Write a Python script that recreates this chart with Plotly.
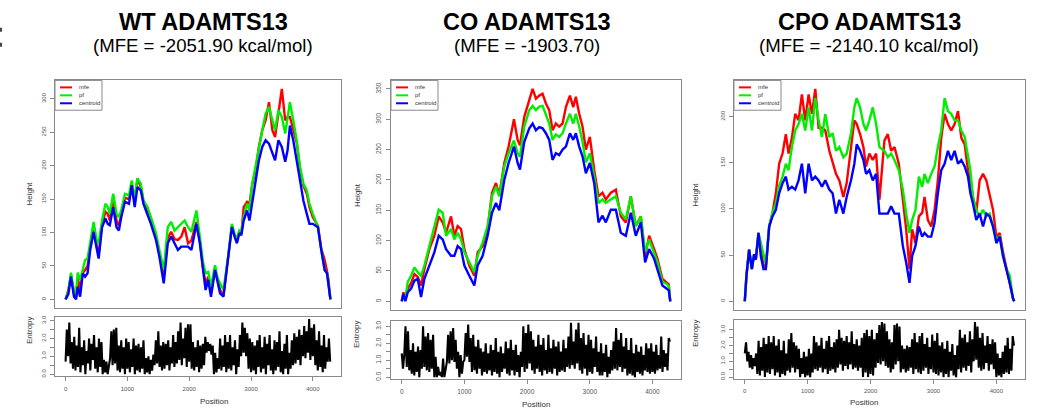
import plotly.graph_objects as go

W, H = 1038, 420
SEQ_LEN = 4284
ENT_STEP = 20

TITLES = ["WT ADAMTS13", "CO ADAMTS13", "CPO ADAMTS13"]
SUBTITLES = ["(MFE = -2051.90 kcal/mol)", "(MFE = -1903.70)", "(MFE = -2140.10 kcal/mol)"]
SERIES_NAMES = ["mfe", "pf", "centroid"]
COLORS = ["#ff0000", "#00ee00", "#0000ff"]

X_TICKS = [0, 1000, 2000, 3000, 4000]
X_TICK_LABELS = ["0", "1000", "2000", "3000", "4000"]
ENT_TICKS = [0, 0.5, 1.0, 1.5, 2.0, 2.5, 3.0]
ENT_TICK_LABELS = ["0.0", "", "1.0", "", "2.0", "", "3.0"]
WT_HEIGHT_TICKS = [0, 50, 100, 150, 200, 250, 300]
CO_HEIGHT_TICKS = [0, 50, 100, 150, 200, 250, 300, 350]
CPO_HEIGHT_TICKS = [0, 50, 100, 150, 200]

# ---------------- WT mountain plot ----------------
WT_POS = [0, 45, 87, 136, 170, 196, 235, 278, 316, 355, 398, 453, 508, 535, 590, 644, 682, 715,
          770, 824, 862, 900, 960, 1026, 1070, 1118, 1162, 1217, 1260, 1326, 1380, 1462, 1517,
          1588, 1653, 1708, 1763, 1817, 1872, 1926, 1981, 2035, 2117, 2172, 2226, 2265, 2308,
          2352, 2417, 2461, 2499, 2554, 2636, 2690, 2734, 2772, 2810, 2843, 2881, 2936, 2974,
          3018, 3072, 3127, 3181, 3236, 3290, 3345, 3389, 3443, 3498, 3553, 3591, 3629, 3683,
          3738, 3793, 3847, 3902, 3945, 4000, 4082, 4136, 4191, 4229, 4250, 4284]
WT_PF = [0, 12, 40, 12, 8, 40, 29, 44, 59, 61, 84, 116, 86, 84, 118, 143, 138, 128, 158, 128,
         123, 133, 158, 156, 178, 150, 181, 173, 148, 138, 123, 99, 74, 44, 108, 116, 103, 108,
         113, 118, 108, 101, 133, 94, 54, 39, 41, 19, 51, 31, 24, 14, 68, 113, 98, 90, 103, 100,
         123, 143, 133, 173, 198, 228, 253, 278, 288, 268, 253, 283, 273, 248, 276, 295, 268,
         238, 198, 173, 163, 143, 128, 108, 74, 44, 39, 24, 0]
WT_MFE = [0, 14, 36, 8, 4, 32, 15, 40, 44, 50, 78, 103, 78, 68, 112, 131, 128, 118, 148, 118,
          110, 128, 152, 150, 166, 145, 181, 168, 146, 133, 118, 94, 69, 34, 92, 101, 90, 89,
          94, 108, 84, 88, 116, 88, 44, 24, 34, 9, 47, 27, 14, 6, 66, 110, 96, 87, 101, 98,
          138, 146, 143, 171, 193, 228, 253, 268, 295, 253, 243, 278, 315, 268, 273, 273, 253,
          235, 195, 170, 158, 138, 123, 110, 76, 59, 42, 31, 0]
WT_CENTROID = [0, 8, 34, 4, 0, 19, 4, 39, 34, 39, 74, 101, 74, 61, 108, 121, 113, 111, 138, 108,
               103, 123, 146, 143, 171, 138, 168, 163, 143, 128, 113, 89, 64, 24, 84, 94, 84, 74,
               79, 79, 79, 74, 113, 84, 39, 14, 29, 4, 44, 24, 9, 4, 64, 108, 94, 84, 99, 96,
               118, 133, 118, 143, 173, 208, 228, 238, 233, 218, 208, 238, 228, 206, 223, 260, 238,
               208, 178, 148, 128, 113, 113, 108, 74, 44, 39, 24, 0]

# ---------------- CO mountain plot ----------------
CO_POS = [0, 27, 58, 96, 149, 202, 255, 308, 361, 441, 521, 590, 653, 707, 786, 839, 892, 946,
          999, 1078, 1158, 1211, 1291, 1370, 1440, 1503, 1556, 1636, 1705, 1790, 1849, 1886,
          1955, 2035, 2088, 2141, 2194, 2247, 2300, 2353, 2406, 2459, 2512, 2566, 2619, 2683,
          2736, 2778, 2831, 2884, 2938, 3001, 3070, 3139, 3203, 3256, 3336, 3416, 3495, 3575,
          3655, 3734, 3814, 3883, 3947, 4027, 4080, 4159, 4223, 4260, 4284]
CO_PF = [0, 10, 5, 32, 42, 56, 48, 42, 59, 91, 119, 151, 146, 108, 119, 102, 113, 102, 81, 64,
         48, 75, 97, 124, 173, 189, 173, 222, 244, 265, 244, 238, 288, 315, 322, 315, 321, 322,
         309, 293, 266, 275, 271, 277, 293, 309, 293, 309, 288, 263, 229, 244, 206, 162, 168,
         162, 168, 173, 146, 135, 173, 124, 140, 81, 102, 81, 64, 32, 29, 25, 0]
CO_MFE = [0, 15, 2, 21, 30, 45, 40, 26, 53, 86, 108, 140, 130, 113, 140, 108, 124, 119, 86, 59,
          42, 81, 91, 119, 179, 195, 175, 228, 255, 300, 266, 257, 304, 331, 350, 334, 339, 342,
          326, 315, 282, 293, 288, 293, 320, 339, 320, 337, 309, 288, 250, 271, 217, 173, 179,
          168, 179, 184, 140, 130, 173, 124, 140, 75, 108, 86, 70, 37, 32, 28, 0]
CO_CENTROID = [0, 12, 0, 15, 21, 34, 37, 7, 37, 59, 81, 108, 102, 86, 75, 75, 91, 86, 59, 42,
               26, 59, 75, 108, 146, 162, 150, 200, 228, 255, 228, 217, 263, 285, 293, 282, 287,
               285, 277, 266, 233, 244, 241, 250, 255, 277, 266, 277, 255, 239, 211, 228, 195,
               130, 141, 130, 151, 151, 113, 108, 146, 108, 130, 64, 86, 70, 53, 26, 21, 18, 0]

# ---------------- CPO mountain plot ----------------
CPO_POS = [0, 27, 69, 112, 149, 175, 218, 255, 297, 335, 388, 441, 494, 547, 600, 653, 696, 749,
           802, 855, 908, 961, 1015, 1068, 1121, 1174, 1227, 1280, 1344, 1397, 1450, 1503, 1567,
           1620, 1689, 1742, 1780, 1833, 1886, 1928, 1981, 2035, 2088, 2141, 2220, 2274, 2327,
           2380, 2449, 2513, 2566, 2619, 2661, 2714, 2768, 2821, 2858, 2911, 2964, 3017, 3070,
           3124, 3177, 3230, 3283, 3336, 3390, 3443, 3496, 3549, 3587, 3628, 3681, 3734, 3788,
           3841, 3894, 3947, 4000, 4053, 4106, 4159, 4212, 4265, 4284]
CPO_PF = [0, 28, 56, 35, 51, 45, 74, 63, 51, 40, 81, 96, 106, 125, 135, 149, 142, 167, 185, 192,
          203, 185, 210, 185, 220, 196, 178, 203, 178, 182, 163, 167, 156, 160, 182, 210, 220,
          210, 192, 185, 196, 210, 192, 167, 163, 156, 160, 153, 142, 121, 95, 74, 88, 99, 135,
          124, 138, 128, 138, 146, 167, 185, 220, 206, 203, 196, 196, 185, 178, 156, 142, 113,
          99, 92, 99, 92, 95, 81, 67, 70, 49, 35, 28, 3, 0]
CPO_MFE = [0, 28, 56, 35, 51, 45, 74, 55, 40, 36, 81, 96, 117, 149, 160, 181, 160, 177, 203, 196,
           224, 196, 224, 203, 230, 188, 188, 185, 163, 149, 138, 131, 113, 128, 167, 196, 192,
           181, 167, 146, 160, 153, 160, 110, 174, 181, 163, 167, 149, 113, 78, 35, 78, 63, 92,
           96, 113, 88, 81, 99, 131, 177, 203, 192, 185, 192, 206, 177, 170, 142, 131, 113, 96,
           131, 138, 131, 113, 99, 70, 74, 53, 38, 20, 3, 0]
CPO_CENTROID = [0, 28, 56, 35, 51, 45, 74, 49, 35, 35, 81, 92, 99, 117, 128, 135, 121, 124, 121,
                131, 149, 117, 149, 131, 135, 131, 124, 131, 121, 117, 95, 110, 95, 113, 131, 149,
                170, 163, 153, 138, 142, 131, 138, 95, 95, 95, 103, 95, 95, 60, 42, 20, 49, 60,
                81, 70, 74, 70, 70, 85, 117, 142, 149, 163, 153, 163, 149, 153, 146, 135, 117,
                106, 88, 95, 81, 95, 92, 81, 63, 70, 49, 35, 20, 3, 0]

# ---------------- Positional entropy (sampled every ENT_STEP nt) ----------------
WT_ENTROPY = [
    0.7, 2.5, 1.0, 2.9, 0.6, 1.8, 0.3, 2.1, 0.2, 1.6,
    0.4, 2.6, 0.1, 1.5, 0.5, 1.9, 0.0, 1.3, 0.6, 2.0,
    0.2, 1.7, 0.8, 2.2, 0.3, 1.5, 0.1, 2.0, 0.4, 1.8,
    0.0, 0.8, 0.1, 0.7, 0.0, 0.6, 0.9, 2.4, 0.5, 2.5,
    0.6, 2.6, 0.2, 1.6, 0.1, 1.9, 0.3, 1.5, 0.0, 2.0,
    0.3, 1.8, 0.1, 1.4, 0.4, 2.0, 0.0, 1.6, 0.2, 1.7,
    0.1, 1.5, 0.3, 1.9, 0.0, 0.9, 0.1, 1.0, 0.0, 0.8,
    0.2, 1.1, 0.5, 1.9, 0.6, 2.4, 0.4, 1.6, 0.2, 1.8,
    0.3, 1.7, 0.5, 1.9, 0.2, 1.5, 0.6, 2.2, 0.4, 1.8,
    0.6, 2.4, 0.8, 2.9, 0.5, 2.0, 0.9, 2.6, 0.4, 2.8,
    0.7, 2.8, 0.3, 1.8, 0.2, 1.5, 0.4, 1.9, 0.1, 1.6,
    0.3, 1.7, 0.5, 2.1, 1.2, 1.8, 1.3, 1.7, 1.1, 1.6,
    0.0, 1.2, 0.1, 0.9, 0.3, 2.0, 0.2, 1.6, 0.4, 2.2,
    0.1, 1.8, 0.3, 2.2, 0.2, 1.5, 0.5, 1.9, 0.0, 1.4,
    0.4, 2.2, 1.0, 2.9, 1.2, 2.6, 1.0, 2.3, 0.3, 2.0,
    0.1, 1.8, 0.2, 1.6, 0.0, 1.9, 0.4, 2.2, 0.1, 1.5,
    0.3, 2.1, 0.0, 1.7, 0.5, 2.2, 0.2, 1.4, 0.0, 1.9,
    0.2, 1.8, 0.4, 2.4, 0.1, 1.3, 0.0, 1.7, 0.3, 2.2,
    0.0, 1.2, 0.3, 1.9, 0.5, 2.3, 0.6, 2.1, 0.8, 2.5,
    0.5, 2.2, 1.0, 2.7, 0.9, 2.4, 1.2, 3.1, 0.8, 2.6,
    1.0, 2.8, 0.5, 1.9, 0.2, 2.4, 0.4, 1.6, 0.1, 2.2,
    0.3, 1.5, 0.7, 2.0, 0.7,
]
CO_ENTROPY = [
    1.4, 0.5, 1.3, 3.0, 0.6, 2.7, 0.4, 1.6, 0.2, 2.0,
    0.1, 1.5, 0.3, 1.8, 0.0, 1.6, 0.5, 3.0, 0.6, 2.4,
    0.4, 2.6, 0.3, 2.2, 0.5, 2.5, 0.0, 1.2, 0.0, 0.6,
    0.1, 0.3, 0.0, 1.1, 0.0, 0.5, 0.9, 2.5, 0.8, 2.7,
    1.0, 2.9, 0.9, 2.2, 0.5, 1.5, 0.0, 1.3, 0.2, 0.9,
    1.0, 2.6, 1.2, 3.1, 0.9, 2.3, 0.3, 2.5, 0.4, 1.8,
    0.2, 2.2, 0.5, 1.7, 0.1, 1.5, 0.3, 2.0, 0.2, 1.4,
    0.4, 1.9, 0.1, 1.6, 0.3, 2.3, 0.2, 1.5, 0.0, 1.8,
    0.3, 1.4, 0.5, 2.1, 0.2, 1.7, 0.1, 2.2, 0.4, 1.6,
    0.1, 1.9, 0.3, 1.3, 0.0, 1.5, 0.6, 3.0, 0.3, 2.6,
    0.5, 3.1, 0.8, 2.7, 0.4, 2.2, 0.2, 1.8, 0.5, 2.5,
    0.3, 1.9, 0.1, 2.3, 0.4, 1.6, 0.2, 2.5, 0.3, 1.7,
    0.2, 2.2, 0.5, 1.8, 0.1, 2.1, 0.3, 1.5, 0.4, 2.2,
    0.3, 1.7, 0.6, 2.4, 0.5, 3.2, 0.7, 2.1, 0.5, 2.8,
    0.8, 3.2, 0.4, 2.3, 0.2, 2.6, 0.5, 1.9, 0.1, 2.5,
    0.3, 2.2, 0.2, 1.7, 0.6, 2.4, 0.3, 1.5, 0.1, 2.0,
    0.1, 1.4, 0.3, 1.9, 0.0, 1.2, 0.2, 1.6, 0.4, 2.1,
    0.5, 2.9, 0.4, 2.2, 0.6, 2.6, 0.3, 1.8, 0.5, 2.3,
    0.1, 1.6, 0.2, 2.3, 0.1, 1.4, 0.0, 1.9, 0.3, 1.5,
    0.2, 1.8, 0.1, 1.3, 0.4, 2.0, 0.3, 1.7, 0.2, 2.0,
    0.3, 1.5, 0.2, 1.9, 0.4, 1.3, 0.5, 2.4, 0.3, 1.6,
    0.6, 1.4, 0.4, 2.3, 2.1,
]
CPO_ENTROPY = [
    1.5, 2.2, 1.0, 1.6, 0.6, 1.4, 0.5, 1.2, 0.7, 1.5,
    0.2, 2.3, 0.1, 1.9, 0.4, 2.5, 0.0, 2.1, 0.3, 2.6,
    0.2, 2.2, 0.5, 2.6, 0.1, 2.0, 0.3, 2.4, 0.0, 1.7,
    0.2, 2.3, 0.1, 1.5, 0.4, 2.4, 0.3, 2.8, 0.6, 2.2,
    0.3, 2.0, 0.5, 1.8, 0.0, 1.2, 0.2, 1.6, 0.0, 1.3,
    0.1, 1.8, 0.0, 1.5, 0.3, 2.6, 0.5, 2.2, 0.4, 2.0,
    0.6, 2.5, 0.3, 1.8, 0.5, 2.3, 0.2, 2.6, 0.4, 1.9,
    0.5, 2.2, 0.3, 2.4, 0.6, 3.0, 0.8, 2.5, 0.4, 2.3,
    0.7, 2.6, 0.5, 2.2, 0.8, 2.9, 0.5, 2.1, 0.6, 2.4,
    0.4, 2.0, 0.6, 2.5, 0.0, 2.8, 0.3, 3.0, 0.0, 2.6,
    0.2, 3.0, 0.1, 2.4, 0.6, 2.8, 0.9, 3.3, 0.8, 3.5,
    1.0, 3.4, 0.7, 2.9, 0.6, 2.4, 0.3, 2.2, 0.5, 3.3,
    0.8, 3.4, 1.0, 3.2, 0.3, 2.0, 0.5, 1.8, 0.3, 2.0,
    0.4, 1.9, 0.6, 2.4, 0.2, 2.8, 0.5, 2.2, 0.3, 2.6,
    0.2, 2.8, 0.4, 2.1, 0.6, 2.5, 0.2, 1.9, 0.5, 2.7,
    0.3, 2.3, 0.2, 2.8, 0.1, 2.0, 0.3, 2.2, 0.0, 1.8,
    0.2, 2.3, 0.0, 1.6, 0.4, 2.1, 0.1, 1.4, 0.0, 2.0,
    0.5, 3.0, 0.3, 2.5, 0.6, 2.7, 0.4, 2.2, 0.7, 2.9,
    0.3, 2.4, 1.0, 3.5, 1.1, 3.2, 0.6, 2.5, 0.4, 2.8,
    0.5, 2.0, 0.9, 2.6, 0.4, 2.1, 0.8, 2.4, 0.5, 2.2,
    0.0, 1.5, 0.1, 1.2, 0.0, 1.6, 0.2, 2.0, 0.3, 2.5,
    0.2, 1.8, 0.4, 2.6, 2.0,
]

PANELS = [
    dict(pos=WT_POS, series=[WT_MFE, WT_PF, WT_CENTROID], ent=WT_ENTROPY, hticks=WT_HEIGHT_TICKS),
    dict(pos=CO_POS, series=[CO_MFE, CO_PF, CO_CENTROID], ent=CO_ENTROPY, hticks=CO_HEIGHT_TICKS),
    dict(pos=CPO_POS, series=[CPO_MFE, CPO_PF, CPO_CENTROID], ent=CPO_ENTROPY, hticks=CPO_HEIGHT_TICKS),
]

# Layout geometry in pixels (left, right, top-plot top/bottom, entropy top/bottom)
GEOM = [
    dict(x0=55, x1=341, t0=79, t1=308, e0=317, e1=377, title_x=203, ylab_x=23, pos_y=409, fs=6),
    dict(x0=391, x1=681, t0=79, t1=310, e0=321, e1=380, title_x=527, ylab_x=357, pos_y=412, fs=6.5),
    dict(x0=734, x1=1025, t0=79, t1=310, e0=320, e1=380, title_x=869, ylab_x=702, pos_y=410, fs=6),
]


def px(x):
    return x / W


def py(y):
    return 1 - y / H


FONT = "Liberation Sans, Arial, Helvetica, sans-serif"
AX_COLOR = "#8a8a8a"
TICK_FONT_COLOR = "#555555"
LABEL_COLOR = "#333333"

fig = go.Figure()
layout = dict(
    width=W, height=H, margin=dict(l=0, r=0, t=0, b=0),
    paper_bgcolor="white", plot_bgcolor="white", showlegend=False,
    font=dict(family=FONT),
)
annotations = []
shapes = []

x_range = [-0.04 * SEQ_LEN, 1.04 * SEQ_LEN]

for i, (panel, g) in enumerate(zip(PANELS, GEOM)):
    top_idx = 2 * i + 1
    ent_idx = 2 * i + 2
    xa_top = "x" if top_idx == 1 else f"x{top_idx}"
    ya_top = "y" if top_idx == 1 else f"y{top_idx}"
    xa_ent, ya_ent = f"x{ent_idx}", f"y{ent_idx}"

    for name, vals, color in zip(SERIES_NAMES, panel["series"], COLORS):
        fig.add_trace(go.Scatter(
            x=panel["pos"], y=vals, mode="lines", name=name,
            line=dict(color=color, width=2.4), xaxis=xa_top, yaxis=ya_top,
            hoverinfo="skip",
        ))
    ent = panel["ent"]
    ent_pos = [k * ENT_STEP for k in range(len(ent))]
    fig.add_trace(go.Scatter(
        x=ent_pos, y=ent, mode="lines", name="entropy",
        line=dict(color="black", width=2.1), xaxis=xa_ent, yaxis=ya_ent,
        hoverinfo="skip",
    ))

    hmax = max(max(s) for s in panel["series"])
    emax = max(ent)
    common = dict(showline=True, mirror=True, linecolor=AX_COLOR, linewidth=1,
                  showgrid=False, zeroline=False, fixedrange=True)
    tickstyle = dict(ticks="outside", ticklen=4, tickcolor=AX_COLOR, tickwidth=1,
                     tickfont=dict(size=g["fs"], color=TICK_FONT_COLOR, family=FONT))

    key_xt = "xaxis" if top_idx == 1 else f"xaxis{top_idx}"
    key_yt = "yaxis" if top_idx == 1 else f"yaxis{top_idx}"
    layout[key_xt] = dict(domain=[px(g["x0"]), px(g["x1"])], range=x_range,
                          showticklabels=False, ticks="", anchor=ya_top, **common)
    layout[key_yt] = dict(domain=[py(g["t1"]), py(g["t0"])],
                          range=[-0.04 * hmax, 1.04 * hmax], anchor=xa_top,
                          tickvals=panel["hticks"], ticktext=[str(v) for v in panel["hticks"]],
                          tickangle=-90, ticklabelstandoff=2, **tickstyle, **common)
    layout[f"xaxis{ent_idx}"] = dict(domain=[px(g["x0"]), px(g["x1"])], range=x_range,
                                     anchor=ya_ent, tickvals=X_TICKS, ticktext=X_TICK_LABELS,
                                     ticklabelstandoff=2, **tickstyle, **common)
    layout[f"yaxis{ent_idx}"] = dict(domain=[py(g["e1"]), py(g["e0"])],
                                     range=[-0.04 * emax, 1.04 * emax], anchor=xa_ent,
                                     tickvals=ENT_TICKS, ticktext=ENT_TICK_LABELS,
                                     tickangle=-90, ticklabelstandoff=2, **tickstyle, **common)

    # Titles
    annotations.append(dict(text=f"<b>{TITLES[i]}</b>", x=px(g["title_x"]), y=py(20),
                            xref="paper", yref="paper", showarrow=False, xanchor="center",
                            yanchor="middle", font=dict(size=23.5, color="black", family=FONT)))
    annotations.append(dict(text=SUBTITLES[i], x=px(g["title_x"]), y=py(44),
                            xref="paper", yref="paper", showarrow=False, xanchor="center",
                            yanchor="middle", font=dict(size=18.6, color="black", family=FONT)))
    # Axis titles
    annotations.append(dict(text="Height", x=px(g["ylab_x"]), y=py((g["t0"] + g["t1"]) / 2),
                            xref="paper", yref="paper", showarrow=False, textangle=-90,
                            font=dict(size=8, color=LABEL_COLOR, family=FONT)))
    annotations.append(dict(text="Entropy", x=px(g["ylab_x"]), y=py((g["e0"] + g["e1"]) / 2),
                            xref="paper", yref="paper", showarrow=False, textangle=-90,
                            font=dict(size=8, color=LABEL_COLOR, family=FONT)))
    annotations.append(dict(text="Position", x=px((g["x0"] + g["x1"]) / 2), y=py(g["pos_y"]),
                            xref="paper", yref="paper", showarrow=False,
                            font=dict(size=8, color=LABEL_COLOR, family=FONT)))

    # Legend box (R style, top-left inside the plot)
    lx, ly = g["x0"], g["t0"]
    shapes.append(dict(type="rect", xref="paper", yref="paper",
                       x0=px(lx), x1=px(lx + 47), y0=py(ly), y1=py(ly + 30),
                       line=dict(color=AX_COLOR, width=1), fillcolor="white"))
    for k, (name, color) in enumerate(zip(SERIES_NAMES, COLORS)):
        yy = ly + 7 + 8 * k
        shapes.append(dict(type="line", xref="paper", yref="paper",
                           x0=px(lx + 5), x1=px(lx + 17), y0=py(yy), y1=py(yy),
                           line=dict(color=color, width=2)))
        annotations.append(dict(text=name, x=px(lx + 22), y=py(yy), xref="paper", yref="paper",
                                showarrow=False, xanchor="left", yanchor="middle",
                                font=dict(size=6, color=LABEL_COLOR, family=FONT)))

# small edge marks seen at the far left of the original image
for y0m, y1m in [(26, 30), (41, 45)]:
    shapes.append(dict(type="rect", xref="paper", yref="paper", x0=0, x1=px(2),
                       y0=py(y1m), y1=py(y0m), line=dict(width=0), fillcolor="#444444"))

layout["annotations"] = annotations
layout["shapes"] = shapes
fig.update_layout(**layout)
fig.write_html("out.html")
